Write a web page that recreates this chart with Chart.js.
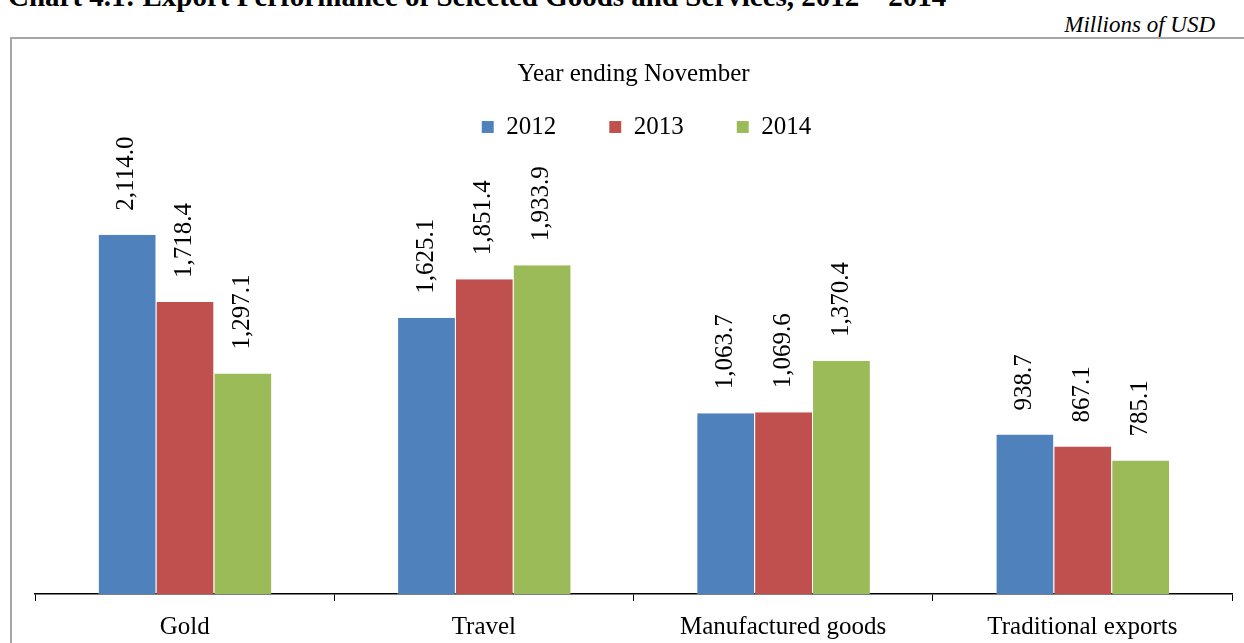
<!DOCTYPE html>
<html>
<head>
<meta charset="utf-8">
<script src="https://cdn.jsdelivr.net/npm/chart.js@4.4.1/dist/chart.umd.min.js"></script>
<style>
  html, body { margin: 0; padding: 0; background: #fff; overflow: hidden; }
  body { width: 1244px; height: 643px; position: relative; font-family: 'Liberation Serif', 'Times New Roman', serif; }
  #title { position: absolute; left: 8px; top: -18px; font-size: 29px; line-height: 29px; font-weight: bold; white-space: nowrap; color: #000; }
  #unit { position: absolute; right: 29px; top: 12px; font-size: 23px; line-height: 26px; font-style: italic; color: #000; }
  #frame { position: absolute; left: 10px; top: 37px; width: 1260px; height: 640px; border: 2px solid #a6a6a6; }
  #wrap { position: absolute; left: 0; top: 0; width: 1244px; height: 663px; }
</style>
</head>
<body>
<div id="title">Chart 4.1: Export Performance of Selected Goods and Services, 2012 – 2014</div>
<div id="unit">Millions of USD</div>
<div id="frame"></div>
<div id="wrap"><canvas id="chart"></canvas></div>
<script>
// categories and series (Millions of USD, year ending November)
const categories = ['Gold', 'Travel', 'Manufactured goods', 'Traditional exports'];
const years = ['2012', '2013', '2014'];
const values2012 = [2114.0, 1625.1, 1063.7, 938.7];
const values2013 = [1718.4, 1851.4, 1069.6, 867.1];
const values2014 = [1297.1, 1933.9, 1370.4, 785.1];
const seriesColors = ['#4F81BD', '#C0504D', '#9BBB59'];

const serif = "'Liberation Serif', 'Times New Roman', serif";
const seriesData = [values2012, values2013, values2014];

// rotated value labels above each bar
const barLabels = {
    id: 'barLabels',
    afterDatasetsDraw(chart) {
        const ctx = chart.ctx;
        ctx.save();
        ctx.font = '25px ' + serif;
        ctx.fillStyle = '#000';
        ctx.textAlign = 'left';
        ctx.textBaseline = 'middle';
        chart.data.datasets.forEach((ds, i) => {
            chart.getDatasetMeta(i).data.forEach((bar, j) => {
                const txt = ds.data[j].toLocaleString('en-US', { minimumFractionDigits: 1, maximumFractionDigits: 1 });
                ctx.save();
                ctx.translate(bar.x, bar.y - 24);
                ctx.rotate(-Math.PI / 2);
                ctx.fillText(txt, 0, 0);
                ctx.restore();
            });
        });
        ctx.restore();
    }
};

// nudge the legend row a little to the right, as in the original
const legendNudge = {
    id: 'legendNudge',
    afterLayout(chart) {
        if (chart.legend) {
            chart.legend.left += 13;
            chart.legend.right += 13;
        }
    }
};

new Chart(document.getElementById('chart'), {
    type: 'bar',
    data: {
        labels: categories,
        datasets: years.map((y, i) => ({
            label: y,
            data: seriesData[i],
            backgroundColor: seriesColors[i],
            borderColor: 'rgba(255,255,255,0.3)',
            borderWidth: { left: 1, right: 0, top: 0, bottom: 0 },
            categoryPercentage: 0.58,
            barPercentage: 1.0
        }))
    },
    options: {
        responsive: true,
        maintainAspectRatio: false,
        animation: false,
        layout: { padding: { left: 35, right: 12, top: 45, bottom: 10 } },
        plugins: {
            tooltip: { enabled: false },
            title: {
                display: true,
                text: 'Year ending November',
                color: '#000',
                font: { family: serif, size: 25, weight: 'normal' },
                padding: { top: 14, bottom: -27.5 }
            },
            legend: {
                position: 'top',
                labels: {
                    color: '#000',
                    font: { family: serif, size: 25 },
                    boxWidth: 12,
                    boxHeight: 12,
                    padding: 53
                }
            }
        },
        scales: {
            x: {
                offset: true,
                grid: {
                    offset: true,
                    drawOnChartArea: false,
                    drawTicks: true,
                    tickLength: 7,
                    color: '#000'
                },
                border: { display: true, color: '#000', width: 1.5 },
                ticks: {
                    color: '#000',
                    font: { family: serif, size: 25 },
                    padding: 11,
                    maxRotation: 0
                }
            },
            y: {
                display: false,
                min: 0,
                max: 2615
            }
        }
    },
    plugins: [barLabels, legendNudge]
});
</script>
</body>
</html>
